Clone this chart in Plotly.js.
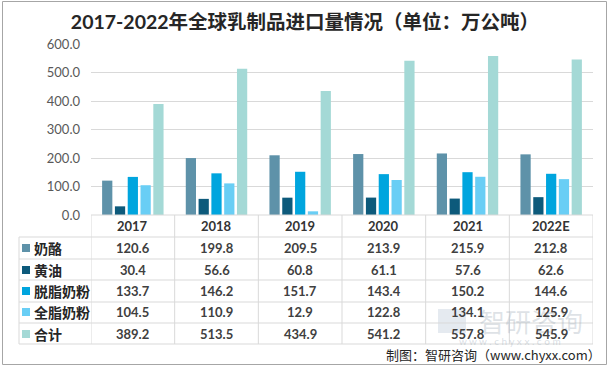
<!DOCTYPE html>
<html>
<head>
<meta charset="utf-8">
<script src="https://cdn.plot.ly/plotly-3.0.1.min.js"></script>
<style>html,body{margin:0;padding:0;background:#fff;}#chart{width:610px;height:369px;}</style>
</head>
<body>
<div id="chart"></div>
<script>
const years = ['2017', '2018', '2019', '2020', '2021', '2022E'];
const seriesNames = ['奶酪', '黄油', '脱脂奶粉', '全脂奶粉', '合计'];
const cheese = [120.6, 199.8, 209.5, 213.9, 215.9, 212.8];
const butter = [30.4, 56.6, 60.8, 61.1, 57.6, 62.6];
const skimMilkPowder = [133.7, 146.2, 151.7, 143.4, 150.2, 144.6];
const wholeMilkPowder = [104.5, 110.9, 12.9, 122.8, 134.1, 125.9];
const total = [389.2, 513.5, 434.9, 541.2, 557.8, 545.9];
const seriesValues = [cheese, butter, skimMilkPowder, wholeMilkPowder, total];
const colors = ['#5e92a9', '#0d5a7b', '#00a5de', '#69cef5', '#a4d9d6'];

// pixel geometry helpers (plot area: x 91..593, y 44..215)
const W = 610, H = 369;
const L = 91, R = 593, T = 44, B = 215;
const px2px = x => (x - L) / (R - L);
const py2py = y => (B - y) / (B - T);

const latin = "Lato, 'Noto Sans CJK SC', sans-serif";
const cjk = "'Noto Sans CJK SC', Lato, sans-serif";

const traces = seriesNames.map((name, i) => ({
  type: 'bar', name: name, x: years, y: seriesValues[i],
  marker: {color: colors[i], line: {width: 0}},
  hoverinfo: 'x+y+name'
}));

const shapes = [];
const annotations = [];
const lineColor = '#d9d9d9';
const rowEdges = [237, 259, 280, 302, 323, 344];
const rowCenters = [248, 270, 291, 312, 334];

// watermark (drawn first, faint)
annotations.push({xref: 'paper', yref: 'paper', x: px2px(531), y: py2py(320), text: '智研咨询', showarrow: false, font: {family: cjk, size: 26, color: 'rgba(160,172,185,0.35)'}, xanchor: 'center', yanchor: 'middle'});
annotations.push({xref: 'paper', yref: 'paper', x: px2px(510), y: py2py(341), text: 'w w w . c h y x x . c o m', showarrow: false, font: {family: latin, size: 10, color: 'rgba(160,172,185,0.4)'}, xanchor: 'center', yanchor: 'middle'});
shapes.push({type: 'rect', xref: 'paper', yref: 'paper', x0: px2px(438), x1: px2px(466), y0: py2py(333), y1: py2py(309), line: {width: 0}, fillcolor: 'rgba(150,170,195,0.25)', layer: 'below'});

// table horizontal lines
shapes.push({type: 'line', xref: 'paper', yref: 'paper', x0: 0, x1: 1, y0: 0, y1: 0, line: {color: lineColor, width: 1}});
rowEdges.forEach(e => shapes.push({type: 'line', xref: 'paper', yref: 'paper', x0: px2px(19), x1: 1, y0: py2py(e), y1: py2py(e), line: {color: lineColor, width: 1}}));
// vertical lines
for (let k = 0; k <= years.length; k++) {
  shapes.push({type: 'line', xref: 'x', yref: 'paper', x0: k - 0.5, x1: k - 0.5, y0: 0, y1: py2py(344), line: {color: lineColor, width: 1}});
}
shapes.push({type: 'line', xref: 'paper', yref: 'paper', x0: px2px(19), x1: px2px(19), y0: py2py(237), y1: py2py(344), line: {color: lineColor, width: 1}});
// outer border
shapes.push({type: 'rect', xref: 'paper', yref: 'paper', x0: px2px(2.5), x1: px2px(606.5), y0: py2py(364.5), y1: py2py(1.5), line: {color: '#a6a6a6', width: 1}, fillcolor: 'rgba(0,0,0,0)'});

// header years (x as category index)
years.forEach((y, j) => annotations.push({xref: 'x', yref: 'paper', x: j, y: py2py(226), text: '<b>' + y + '</b>', showarrow: false, font: {family: latin, size: 13, color: '#333333'}, xanchor: 'center', yanchor: 'middle'}));

// rows
seriesNames.forEach((name, i) => {
  const cy = rowCenters[i];
  shapes.push({type: 'rect', xref: 'paper', yref: 'paper', x0: px2px(22), x1: px2px(30), y0: py2py(cy + 4), y1: py2py(cy - 4), line: {width: 0}, fillcolor: colors[i]});
  annotations.push({xref: 'paper', yref: 'paper', x: px2px(32), y: py2py(cy), text: '<b>' + name + '</b>', showarrow: false, font: {family: cjk, size: 14, color: '#262626'}, xanchor: 'left', yanchor: 'middle'});
  seriesValues[i].forEach((v, j) => annotations.push({xref: 'x', yref: 'paper', x: j, y: py2py(cy), text: '<b>' + v.toFixed(1) + '</b>', showarrow: false, font: {family: latin, size: 13, color: '#404040'}, xanchor: 'center', yanchor: 'middle'}));
});

// credit
annotations.push({xref: 'paper', yref: 'paper', x: px2px(603), y: py2py(354), text: '制图：智研咨询（www.chyxx.com）', showarrow: false, font: {family: cjk, size: 13, color: '#262626'}, xanchor: 'right', yanchor: 'middle'});

const layout = {
  width: W, height: H,
  margin: {l: L, r: W - R, t: T, b: H - B, pad: 0},
  paper_bgcolor: '#ffffff', plot_bgcolor: '#ffffff',
  showlegend: false,
  title: {text: '<b>2017-2022年全球乳制品进口量情况（单位：万公吨）</b>', x: 0.5, xanchor: 'center', xref: 'container', y: 1 - 22 / H, yanchor: 'middle', yref: 'container', font: {family: latin, size: 19.5, color: '#262626'}},
  barmode: 'group', bargap: 0.235, bargroupgap: 0.2,
  xaxis: {type: 'category', range: [-0.5, years.length - 0.5], showticklabels: false, showgrid: false, zeroline: false, showline: false, ticks: ''},
  yaxis: {range: [0, 600], tickvals: [0, 100, 200, 300, 400, 500, 600], tickformat: '.1f', showgrid: true, gridcolor: '#d9d9d9', gridwidth: 1, zeroline: false, showline: false, ticks: '', ticklabelstandoff: 10, tickfont: {family: latin, size: 13, color: '#595959'}},
  shapes: shapes,
  annotations: annotations
};

Plotly.newPlot('chart', traces, layout, {displayModeBar: false, staticPlot: true});
</script>
</body>
</html>
